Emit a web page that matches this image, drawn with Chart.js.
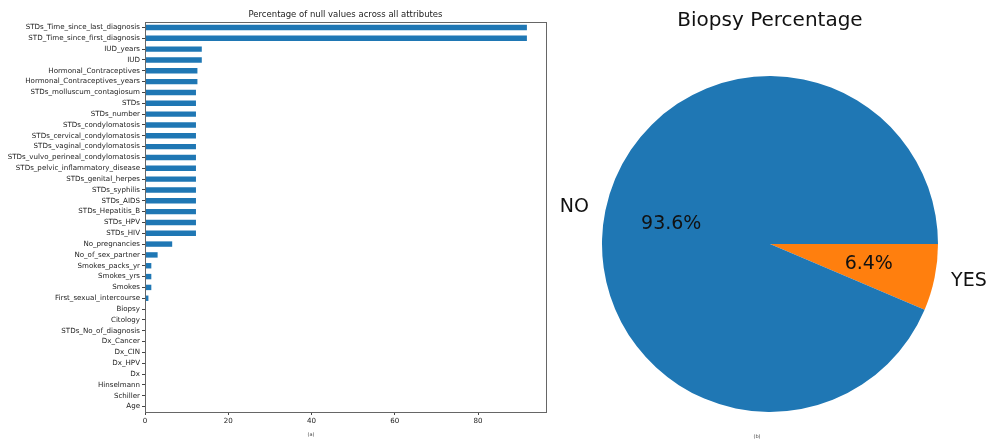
<!DOCTYPE html>
<html>
<head>
<meta charset="utf-8">
<script src="https://cdn.jsdelivr.net/npm/chart.js@4.4.1/dist/chart.umd.min.js"></script>
<style>
  html, body { margin: 0; padding: 0; background: #fff; }
  body { width: 994px; height: 445px; position: relative; overflow: hidden; font-family: "DejaVu Sans", sans-serif; }
  #wrapA { position: absolute; left: 0; top: 0; width: 560px; height: 445px; }
  #wrapB { position: absolute; left: 560px; top: 0; width: 434px; height: 445px; }
  .cap { position: absolute; font-size: 5px; color: #444; transform: translate(-50%, -50%); white-space: nowrap; }
</style>
</head>
<body>
<div id="wrapA"><canvas id="barChart"></canvas></div>
<div id="wrapB"><canvas id="pieChart"></canvas></div>
<div class="cap" style="left:311px; top:434px;">(a)</div>
<div class="cap" style="left:757px; top:436px;">(b)</div>
<script>
// ---------- data ----------
const attributeNames = [
  "STDs_Time_since_last_diagnosis", "STD_Time_since_first_diagnosis", "IUD_years", "IUD",
  "Hormonal_Contraceptives", "Hormonal_Contraceptives_years", "STDs_molluscum_contagiosum",
  "STDs", "STDs_number", "STDs_condylomatosis", "STDs_cervical_condylomatosis",
  "STDs_vaginal_condylomatosis", "STDs_vulvo_perineal_condylomatosis",
  "STDs_pelvic_inflammatory_disease", "STDs_genital_herpes", "STDs_syphilis", "STDs_AIDS",
  "STDs_Hepatitis_B", "STDs_HPV", "STDs_HIV", "No_pregnancies", "No_of_sex_partner",
  "Smokes_packs_yr", "Smokes_yrs", "Smokes", "First_sexual_intercourse", "Biopsy",
  "Citology", "STDs_No_of_diagnosis", "Dx_Cancer", "Dx_CIN", "Dx_HPV", "Dx",
  "Hinselmann", "Schiller", "Age"
];
const nullPercent = [
  91.72, 91.72, 13.64, 13.64,
  12.59, 12.59, 12.24,
  12.24, 12.24, 12.24, 12.24,
  12.24, 12.24,
  12.24, 12.24, 12.24, 12.24,
  12.24, 12.24, 12.24, 6.53, 3.03,
  1.52, 1.52, 1.52, 0.82, 0,
  0, 0, 0, 0, 0, 0,
  0, 0, 0
];
const xTickValues = [0, 20, 40, 60, 80];

const biopsyLabels = ["NO", "YES"];
const biopsyValues = [93.6, 6.4];

const BLUE = "#1f77b4";
const ORANGE = "#ff7f0e";
const FONT = "'DejaVu Sans', sans-serif";

// ---------- bar chart ----------
const xMax = Math.max(...nullPercent) * 1.05;

const boxPlugin = {
  id: "boxPlugin",
  afterDraw(chart) {
    const ctx = chart.ctx, a = chart.chartArea;
    ctx.save();
    ctx.strokeStyle = "#666";
    ctx.lineWidth = 1;
    ctx.strokeRect(Math.round(a.left) + 0.5, Math.round(a.top) + 0.5,
                   Math.round(a.right - a.left), Math.round(a.bottom - a.top));
    ctx.fillStyle = "#222";
    ctx.font = "8.5px " + FONT;
    ctx.textAlign = "center";
    ctx.textBaseline = "middle";
    ctx.fillText("Percentage of null values across all attributes", (a.left + a.right) / 2, 14.5);
    ctx.restore();
  }
};

new Chart(document.getElementById("barChart"), {
  type: "bar",
  data: {
    labels: attributeNames,
    datasets: [{
      data: nullPercent,
      backgroundColor: BLUE,
      borderWidth: 0,
      barPercentage: 0.5,
      categoryPercentage: 1.0
    }]
  },
  options: {
    indexAxis: "y",
    responsive: true,
    maintainAspectRatio: false,
    animation: false,
    layout: { padding: { top: 22, right: 14, left: 0, bottom: 0 } },
    plugins: { legend: { display: false }, tooltip: { enabled: false }, title: { display: false } },
    scales: {
      x: {
        type: "linear",
        min: 0,
        max: xMax,
        afterBuildTicks(scale) { scale.ticks = xTickValues.map(v => ({ value: v })); },
        afterFit(scale) { scale.height = 33; },
        grid: { display: true, drawOnChartArea: false, drawTicks: true, tickLength: 3, color: "#444" },
        border: { display: false },
        ticks: { font: { family: FONT, size: 7.1 }, color: "#222", padding: 2, maxRotation: 0 }
      },
      y: {
        type: "category",
        offset: true,
        afterFit(scale) { scale.width = 145; },
        grid: { display: true, offset: false, drawOnChartArea: false, drawTicks: true, tickLength: 3, color: "#444" },
        border: { display: false },
        ticks: { font: { family: FONT, size: 7.1 }, color: "#222", padding: 2, autoSkip: false }
      }
    }
  },
  plugins: [boxPlugin]
});

// ---------- pie chart ----------
const pieTotal = biopsyValues.reduce((s, v) => s + v, 0);
// matplotlib draws counter-clockwise from 3 o'clock; Chart.js draws clockwise,
// so feed slices in reverse order starting from 3 o'clock.
const pieLabels = biopsyLabels.slice().reverse();
const pieValues = biopsyValues.slice().reverse();
const pieColors = [BLUE, ORANGE].reverse();

const pieLabelPlugin = {
  id: "pieLabelPlugin",
  afterDraw(chart) {
    const ctx = chart.ctx;
    const meta = chart.getDatasetMeta(0);
    ctx.save();
    ctx.fillStyle = "#111";
    ctx.textBaseline = "middle";
    meta.data.forEach((arc, i) => {
      const p = arc.getProps(["x", "y", "startAngle", "endAngle", "outerRadius"], true);
      const mid = (p.startAngle + p.endAngle) / 2;
      const c = Math.cos(mid), s = Math.sin(mid);
      // category label at 1.1 r
      ctx.font = "19px " + FONT;
      ctx.textAlign = c < 0 ? "right" : "left";
      ctx.fillText(pieLabels[i], p.x + 1.1 * p.outerRadius * c, p.y + 1.1 * p.outerRadius * s);
      // percentage at 0.6 r
      ctx.textAlign = "center";
      const pct = (pieValues[i] / pieTotal * 100).toFixed(1) + "%";
      ctx.fillText(pct, p.x + 0.6 * p.outerRadius * c, p.y + 0.6 * p.outerRadius * s);
    });
    ctx.font = "20px " + FONT;
    ctx.textAlign = "center";
    ctx.fillText("Biopsy Percentage", chart.chartArea.left + (chart.chartArea.right - chart.chartArea.left) / 2, 21);
    ctx.restore();
  }
};

new Chart(document.getElementById("pieChart"), {
  type: "pie",
  data: {
    labels: pieLabels,
    datasets: [{
      data: pieValues,
      backgroundColor: pieColors,
      borderWidth: 0
    }]
  },
  options: {
    responsive: true,
    maintainAspectRatio: false,
    animation: false,
    rotation: 90,
    layout: { padding: { left: 42, right: 56, top: 76, bottom: 33 } },
    plugins: { legend: { display: false }, tooltip: { enabled: false }, title: { display: false } }
  },
  plugins: [pieLabelPlugin]
});
</script>
</body>
</html>
